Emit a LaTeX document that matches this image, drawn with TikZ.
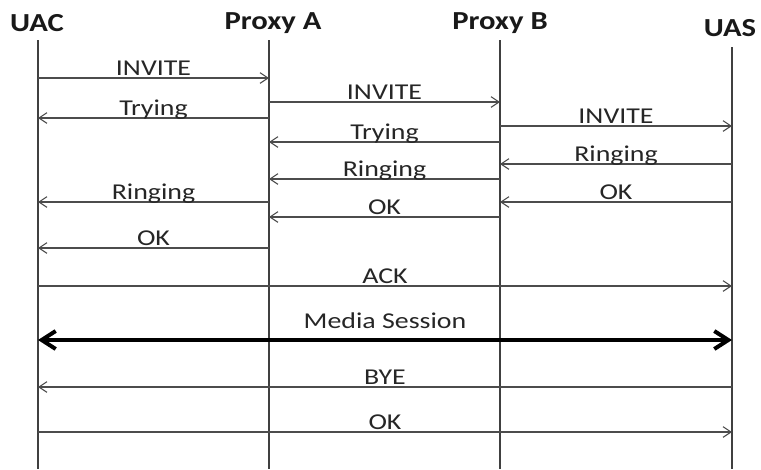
\documentclass[tikz,border=0pt]{standalone}
\usepackage{fontspec}
\setmainfont{Carlito}[FakeStretch=1.23]
\newfontfamily\headfont{Carlito}[FakeStretch=1.18]
\usetikzlibrary{arrows.meta,calc}
\tikzstyle{actor}=[font=\headfont\bfseries\fontsize{19.5}{22}\selectfont,text=black!90,inner sep=0pt]
\tikzstyle{lifeline}=[draw,black!75,line width=0.8pt]
\tikzstyle{msg} = [draw,black!70,line width=0.8pt,-{Straight Barb[length=6pt,width=8pt]}]
\tikzstyle{session} = [draw,black,line width=3pt,{Straight Barb[length=10.5pt,width=13.5pt]}-{Straight Barb[length=10.5pt,width=13.5pt]}]
\tikzstyle{lbl} = [font=\fontsize{17}{19}\selectfont,text=black!85,anchor=base,inner sep=0pt,yshift=2pt]

\begin{document}
\begin{tikzpicture}[x=0.75pt,y=-0.75pt]

  \useasboundingbox (0,0) rectangle (761,469);

  \def\ybot{469};

   \foreach \name/\x/\ytop/\txt/\tx/\ty in {uac/38/40/UAC/37/23, pa/269/40/Proxy A/273/23, pb/500/40/Proxy B/500/23, uas/732/47/UAS/730/28}
   {
          \node[actor] (\name-head) at (\tx,\ty) {\txt};
          \coordinate (\name) at (\x,\ytop);
          \coordinate (\name-end) at (\x,\ybot);
          \path[lifeline] (\name) -- (\name-end);
   }

  \foreach \source/ \dest /\y/\label in {uac/pa/78/INVITE, pa/uac/118/Trying, pa/pb/102/INVITE, pb/pa/142/Trying,
        pb/uas/126/INVITE, uas/pb/164/Ringing, pb/pa/179/Ringing, pa/uac/202/Ringing, uas/pb/202/OK,
        pb/pa/217/OK, pa/uac/248/OK, uac/uas/286/ACK, uas/uac/387/BYE, uac/uas/432/OK}
   {
         \coordinate (\source-out-\y) at (\source |- 0,\y);
         \coordinate (\dest-in-\y) at (\dest |- 0,\y);
         \path[msg] (\source-out-\y) -- node[lbl] {\label} (\dest-in-\y);
   }

  \coordinate (uac-media) at (uac |- 0,340);
  \coordinate (uas-media) at (uas |- 0,340);
  \path[session] (uac-media) -- node[lbl,yshift=7pt] {Media Session} (uas-media);

\end{tikzpicture}
\end{document}
